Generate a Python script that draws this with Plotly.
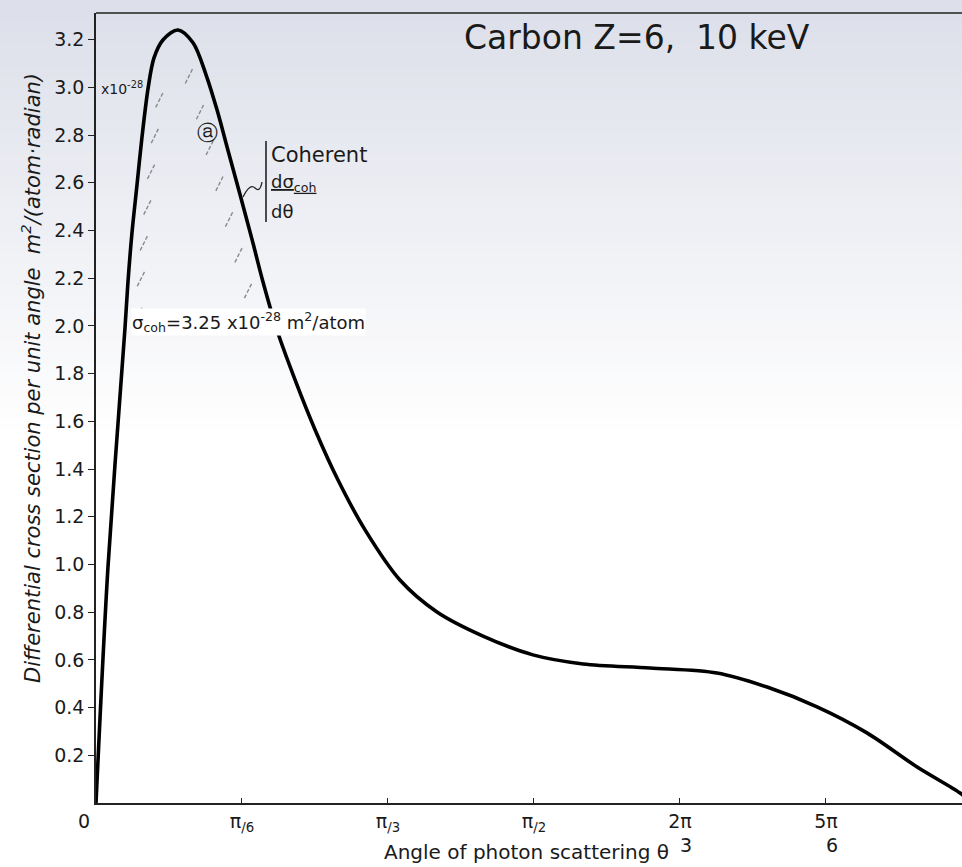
import numpy as np
import plotly.graph_objects as go

# ---------------- data ----------------
theta = [0, 0.043, 0.104, 0.115, 0.129, 0.147, 0.165, 0.187, 0.208, 0.240, 0.294,
         0.348, 0.395, 0.434, 0.473, 0.517, 0.560, 0.599, 0.649, 0.714, 0.786, 0.868,
         0.965, 1.090, 1.223, 1.388, 1.567, 1.747, 1.987, 2.227, 2.407, 2.586, 2.765,
         2.945, 3.099, 3.1416]
dsigma = [0, 0.990, 1.992, 2.189, 2.390, 2.591, 2.792, 2.998, 3.124, 3.199, 3.241,
          3.187, 3.052, 2.906, 2.738, 2.549, 2.361, 2.184, 1.983, 1.774, 1.564, 1.354,
          1.145, 0.935, 0.801, 0.700, 0.621, 0.583, 0.566, 0.545, 0.486, 0.403, 0.294,
          0.151, 0.042, 0]

y_tickvals = [0.2, 0.4, 0.6, 0.8, 1.0, 1.2, 1.4, 1.6, 1.8, 2.0, 2.2, 2.4, 2.6, 2.8, 3.0, 3.2]
y_ticktext = ["0.2", "0.4", "0.6", "0.8", "1.0", "1.2", "1.4", "1.6", "1.8", "2.0",
              "2.2", "2.4", "2.6", "2.8", "3.0", "3.2"]
x_tickvals = [np.pi / 6, np.pi / 3, np.pi / 2, 2 * np.pi / 3, 5 * np.pi / 6]
x_ticktext = ["π<sub>/6</sub>", "π<sub>/3</sub>", "π<sub>/2</sub>",
              "2π<br>&nbsp;&nbsp;3", "5π<br>&nbsp;&nbsp;6"]

hatch_levels_left = [2.05, 2.2, 2.35, 2.5, 2.65, 2.8, 2.95]
hatch_levels_right = [2.15, 2.3, 2.45, 2.6, 2.75, 2.9, 3.05]

# ---------------- layout geometry ----------------
W, H = 962, 867
L, R, T, B = 96, 0, 13, 64
PW, PH = W - L - R, H - T - B
X_MAX = 3.106
Y_MAX = 3.312


def px(x):  # pixel -> paper x
    return (x - L) / PW


def py(y):  # pixel -> paper y
    return (H - B - y) / PH


sx = X_MAX / PW   # data units per pixel
sy = Y_MAX / PH

fig = go.Figure()

# hatch marks derived from the curve
th = np.array(theta)
ds = np.array(dsigma)
ipk = int(np.argmax(ds))
hx, hy = [], []
for v in hatch_levels_left:
    t = np.interp(v, ds[:ipk + 1], th[:ipk + 1]) + 13 * sx
    hx += [t - 4 * sx, t + 4 * sx, None]
    hy += [v - 8 * sy, v + 8 * sy, None]
for v in hatch_levels_right:
    t = np.interp(v, ds[ipk:][::-1], th[ipk:][::-1]) - 17 * sx
    hx += [t - 4 * sx, t + 4 * sx, None]
    hy += [v - 8 * sy, v + 8 * sy, None]
fig.add_trace(go.Scatter(x=hx, y=hy, mode="lines", hoverinfo="skip",
                         line=dict(color="#8a8a8a", width=1.4, dash="4px,2px"),
                         showlegend=False))

fig.add_trace(go.Scatter(x=theta, y=dsigma, mode="lines",
                         line=dict(color="black", width=3.6, shape="spline", smoothing=0.9),
                         showlegend=False, cliponaxis=True))

# background gradient (scan tint)
shapes = []
nb = 40
for i in range(nb):
    y0 = i * 440 / nb
    y1 = (i + 1) * 440 / nb
    f = i / (nb - 1)
    r = int(221 + (255 - 221) * f)
    g = int(224 + (255 - 224) * f)
    b = int(234 + (255 - 234) * f)
    shapes.append(dict(type="rect", xref="paper", yref="paper", layer="below",
                       x0=px(0), x1=px(W), y0=py(y1), y1=py(y0),
                       fillcolor=f"rgb({r},{g},{b})", line=dict(width=0)))
# top frame line
shapes.append(dict(type="line", xref="paper", yref="paper", x0=0, x1=1, y0=1, y1=1,
                   line=dict(color="#222", width=1.6)))
# bracket for the "Coherent" label
shapes.append(dict(type="line", xref="paper", yref="paper", x0=px(266), x1=px(266),
                   y0=py(141), y1=py(222), line=dict(color="#222", width=1.6)))
# leader from curve to bracket
shapes.append(dict(type="path", xref="paper", yref="paper",
                   path=f"M {px(243)},{py(197)} Q {px(250)},{py(183)} {px(255)},{py(188)} "
                        f"T {px(262)},{py(182)}",
                   line=dict(color="#222", width=1.3)))

fig.update_layout(shapes=shapes)

font = "DejaVu Sans"
ink = "#1a1a1a"
ann = []
ann.append(dict(text="Carbon Z=6,&nbsp;&nbsp;10 keV", x=px(462), y=py(38), xref="paper", yref="paper",
                xanchor="left", yanchor="middle", showarrow=False,
                font=dict(family=font, size=33, color=ink)))
ann.append(dict(text="x10<sup>-28</sup>", x=px(99), y=py(88), xref="paper", yref="paper",
                xanchor="left", yanchor="middle", showarrow=False,
                font=dict(family=font, size=14, color=ink)))
ann.append(dict(text="σ<sub>coh</sub>=3.25 x10<sup>-28</sup> m<sup>2</sup>/atom", x=px(131), y=py(322),
                xref="paper", yref="paper", xanchor="left", yanchor="middle", showarrow=False,
                bgcolor="white", borderpad=0,
                font=dict(family=font, size=18, color=ink)))
ann.append(dict(text="ⓐ", x=px(207), y=py(133), xref="paper", yref="paper",
                xanchor="center", yanchor="middle", showarrow=False,
                font=dict(family=font, size=21, color=ink)))
ann.append(dict(text="Coherent", x=px(269), y=py(155), xref="paper", yref="paper",
                xanchor="left", yanchor="middle", showarrow=False,
                font=dict(family=font, size=21, color=ink)))
ann.append(dict(text="<u>dσ<sub>coh</sub></u>", x=px(269), y=py(183), xref="paper", yref="paper",
                xanchor="left", yanchor="middle", showarrow=False,
                font=dict(family=font, size=18, color=ink)))
ann.append(dict(text="dθ", x=px(269), y=py(211), xref="paper", yref="paper",
                xanchor="left", yanchor="middle", showarrow=False,
                font=dict(family=font, size=18, color=ink)))
ann.append(dict(text="0", x=px(84), y=py(821), xref="paper", yref="paper",
                xanchor="center", yanchor="middle", showarrow=False,
                font=dict(family=font, size=19, color=ink)))
ann.append(dict(text="Angle of photon scattering θ", x=px(526), y=py(852), xref="paper", yref="paper",
                xanchor="center", yanchor="middle", showarrow=False,
                font=dict(family=font, size=20, color=ink)))
ann.append(dict(text="<i>Differential cross section per unit angle  m<sup>2</sup>/(atom·radian)</i>",
                x=px(31), y=py(378), xref="paper", yref="paper", textangle=-90,
                xanchor="center", yanchor="middle", showarrow=False,
                font=dict(family=font, size=21, color=ink)))
fig.update_layout(annotations=ann)

fig.update_layout(
    width=W, height=H,
    margin=dict(l=L, r=R, t=T, b=B),
    paper_bgcolor="white", plot_bgcolor="rgba(0,0,0,0)",
    xaxis=dict(range=[0, X_MAX], tickvals=x_tickvals, ticktext=x_ticktext,
               ticks="inside", ticklen=5, tickwidth=1.4, tickcolor="#222",
               showline=True, linecolor="#222", linewidth=1.6, showgrid=False, zeroline=False,
               tickfont=dict(family=font, size=19, color=ink)),
    yaxis=dict(range=[0, Y_MAX], tickvals=y_tickvals, ticktext=y_ticktext,
               ticks="outside", ticklen=6, tickwidth=1.4, tickcolor="#222",
               showline=True, linecolor="#222", linewidth=1.6, showgrid=False, zeroline=False,
               tickfont=dict(family=font, size=19, color=ink)),
)

fig.write_html("out.html")
